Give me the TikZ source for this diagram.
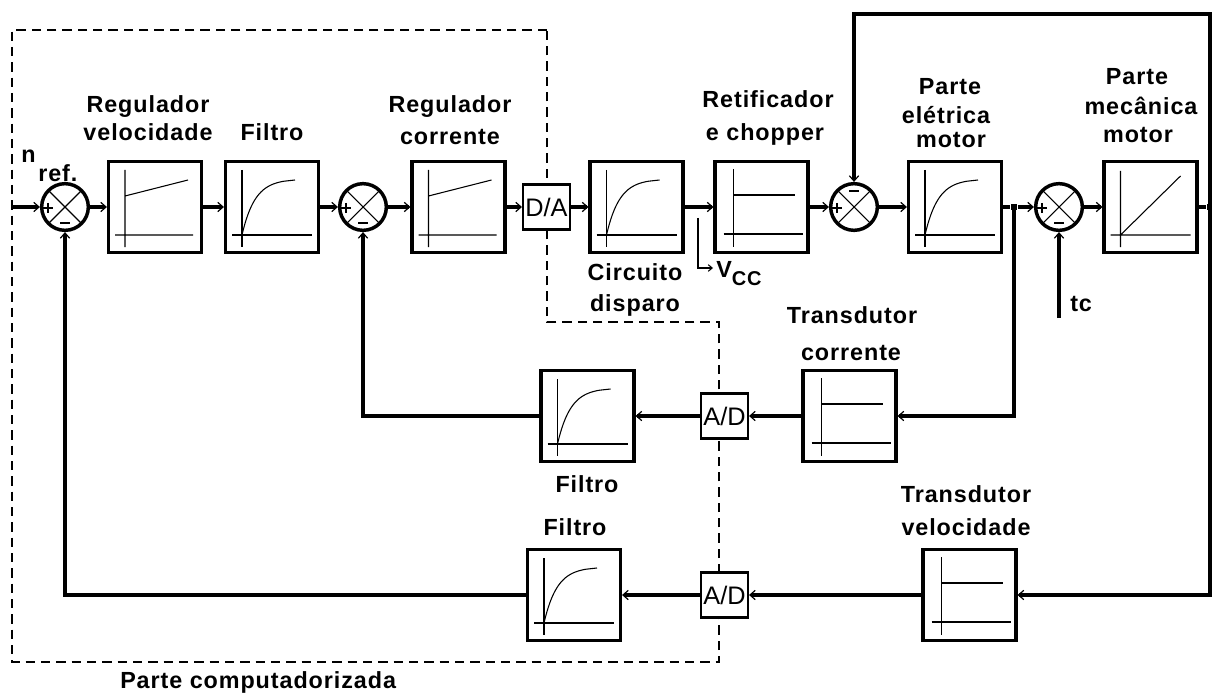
\documentclass[tikz,border=0pt]{standalone}
\usepackage{fontspec}
\setmainfont{Liberation Sans}[LetterSpace=4]
\newfontfamily\plainsans{Liberation Sans}
\usetikzlibrary{arrows.meta}
\tikzset{
  thin/.style={line width=0.8pt},
  sign/.style={line width=1.4pt},
  blk/.style={draw, line width=2.6pt, fill=white, minimum width=69.5pt, minimum height=68pt, inner sep=0pt},
  conv/.style={draw, line width=1.8pt, fill=white, minimum width=35pt, minimum height=33.5pt, inner sep=0pt, font=\plainsans\fontsize{19pt}{21pt}\selectfont},
  sumc/.style={draw, circle, line width=2.6pt, fill=white, minimum size=35pt, inner sep=0pt},
  lbl/.style={font=\fontsize{17.5pt}{20pt}\selectfont\bfseries, inner sep=0pt, anchor=base},
  wire/.style={line width=2.6pt},
  arr/.style={line width=2.6pt, -{Straight Barb[length=4pt,width=7pt,line width=0.9pt]}},
  jdot/.style={rectangle, fill=black, inner sep=0pt, minimum size=5pt},
  bnd/.style={line width=0.8pt, dash pattern=on 7pt off 4.5pt},
  pics/pibox/.style={code={
    \node[blk] (-box) at (0,0) {};
    \draw[thin] (-30,-37) -- (-30,40) (-40,28) -- (38,28) (-30,-11) -- (33,-27);
  }},
  pics/lagbox/.style={code={
    \node[blk] (-box) at (0,0) {};
    \draw[thin] (-30,-37) -- (-30,40) (-40,28) -- (40,28);
    \draw[thin] plot[domain=0:42, samples=30, variable=\t] ({-30+\t},{28-56*(1-exp(-\t/13))}) -- (23,-27);
  }},
  pics/relaybox/.style={code={
    \node[blk] (-box) at (0,0) {};
    \draw[thin] (-28,-38) -- (-28,40) (-38,27) -- (41,27) (-28,-12) -- (33,-12);
  }},
  pics/rampbox/.style={code={
    \node[blk] (-box) at (0,0) {};
    \draw[thin] (-30,-36) -- (-30,40) (-40,28) -- (40,28) (-30,28) -- (30,-31);
  }},
  pics/sumb/.style={code={
    \node[sumc] (-c) at (0,0) {};
    \draw[thin] (-16.5,-16.5) -- (16.5,16.5) (-16.5,16.5) -- (16.5,-16.5);
    \draw[sign] (-22,1) -- (-12,1) (-17,-4) -- (-17,6) (-5,16) -- (5,16);
  }},
  pics/sumt/.style={code={
    \node[sumc] (-c) at (0,0) {};
    \draw[thin] (-16.5,-16.5) -- (16.5,16.5) (-16.5,16.5) -- (16.5,-16.5);
    \draw[sign] (-22,1) -- (-12,1) (-17,-4) -- (-17,6) (-5,-16) -- (5,-16);
  }},
}
\begin{document}
\begin{tikzpicture}[x=0.75pt, y=-0.75pt]
\path[use as bounding box] (0,0) rectangle (1212,695);

% computer part boundary
\draw[bnd] (547,30) -- (12,30) -- (12,662) -- (719,662) -- (719,322) -- (547,322) -- cycle;

% forward path
\pic (s1) at (65,207) {sumb};
\pic (b1) at (155,207) {pibox};
\pic (b2) at (272,207) {lagbox};
\pic (s2) at (363,207) {sumb};
\pic (b3) at (458.5,207) {pibox};
\node[conv] (da) at (546.5,207) {D/A};
\pic (b4) at (636.5,207) {lagbox};
\pic (b5) at (761.5,207) {relaybox};
\pic (s3) at (854,207) {sumt};
\pic (b6) at (955,207) {lagbox};
\pic (s4) at (1059,207) {sumb};
\pic (b7) at (1150.5,207) {rampbox};

% feedback path
\pic (tc) at (849.5,416) {relaybox};
\node[conv] (ad1) at (724.5,416) {A/D};
\pic (f1) at (587.5,416) {lagbox};
\pic (tv) at (969.5,595) {relaybox};
\node[conv] (ad2) at (724.5,595) {A/D};
\pic (f2) at (574,595) {lagbox};

\node[jdot] (j1) at (1014,207) {};
\node[jdot] (j2) at (1210,207) {};
\coordinate (in) at (12,207);
\coordinate (tr) at (1210,14);
\coordinate (tcin) at (1059,318);
\coordinate (v0) at (698,218);
\coordinate (v1) at (713,268);

% connectors
\draw[arr] (in) -- (s1-c);
\draw[arr] (s1-c) -- (b1-box);
\draw[arr] (b1-box) -- (b2-box);
\draw[arr] (b2-box) -- (s2-c);
\draw[arr] (s2-c) -- (b3-box);
\draw[arr] (b3-box) -- (da);
\draw[arr] (da) -- (b4-box);
\draw[arr] (b4-box) -- (b5-box);
\draw[arr] (b5-box) -- (s3-c);
\draw[arr] (s3-c) -- (b6-box);
\draw[wire] (b6-box) -- (j1);
\draw[arr] (j1) -- (s4-c);
\draw[arr] (s4-c) -- (b7-box);
\draw[wire] (b7-box) -- (j2);
\draw[arr] (j2.center) -- (tr) -| (s3-c);
\draw[arr] (j2.center) |- (tv-box);
\draw[arr] (tv-box) -- (ad2);
\draw[arr] (ad2) -- (f2-box);
\draw[arr] (f2-box) -| (s1-c);
\draw[arr] (j1.center) |- (tc-box);
\draw[arr] (tc-box) -- (ad1);
\draw[arr] (ad1) -- (f1-box);
\draw[arr] (f1-box) -| (s2-c);
\draw[arr] (tcin) -- (s4-c);
\draw[thin, -{Straight Barb[length=3pt,width=5pt,line width=0.8pt]}] (v0) |- (v1);

% labels
\node[lbl] (l1a) at (148,113) {Regulador};
\node[lbl] (l1b) at (148,141) {velocidade};
\node[lbl] (l2) at (272,141) {Filtro};
\node[lbl] (l3a) at (450,113) {Regulador};
\node[lbl] (l3b) at (450,145) {corrente};
\node[lbl] (l5a) at (768,108) {Retificador};
\node[lbl] (l5b) at (765,141) {e chopper};
\node[lbl] (l6a) at (950,95) {Parte};
\node[lbl] (l6b) at (946,124) {elétrica};
\node[lbl] (l6c) at (951,148) {motor};
\node[lbl] (l7a) at (1137,85) {Parte};
\node[lbl] (l7b) at (1141,115) {mecânica};
\node[lbl] (l7c) at (1138,143) {motor};
\node[lbl] (l4a) at (635,280) {Circuito};
\node[lbl] (l4b) at (635,311) {disparo};
\node[lbl, anchor=base west] (vcc) at (716,277) {V\raisebox{-6pt}{\fontsize{15pt}{17pt}\selectfont CC}};
\node[lbl] (ltca) at (852,323) {Transdutor};
\node[lbl] (ltcb) at (851,360) {corrente};
\node[lbl] (lf1) at (587,492) {Filtro};
\node[lbl] (lf2) at (575,535) {Filtro};
\node[lbl] (ltva) at (966,502) {Transdutor};
\node[lbl] (ltvb) at (966,535) {velocidade};
\node[lbl, anchor=base west] (lpc) at (120,688) {Parte computadorizada};
\node[lbl, anchor=base west] (ln) at (21,163) {n};
\node[lbl, anchor=base west] (lref) at (38,182) {ref.};
\node[lbl, anchor=base west] (ltc) at (1070,311) {tc};
\end{tikzpicture}
\end{document}
